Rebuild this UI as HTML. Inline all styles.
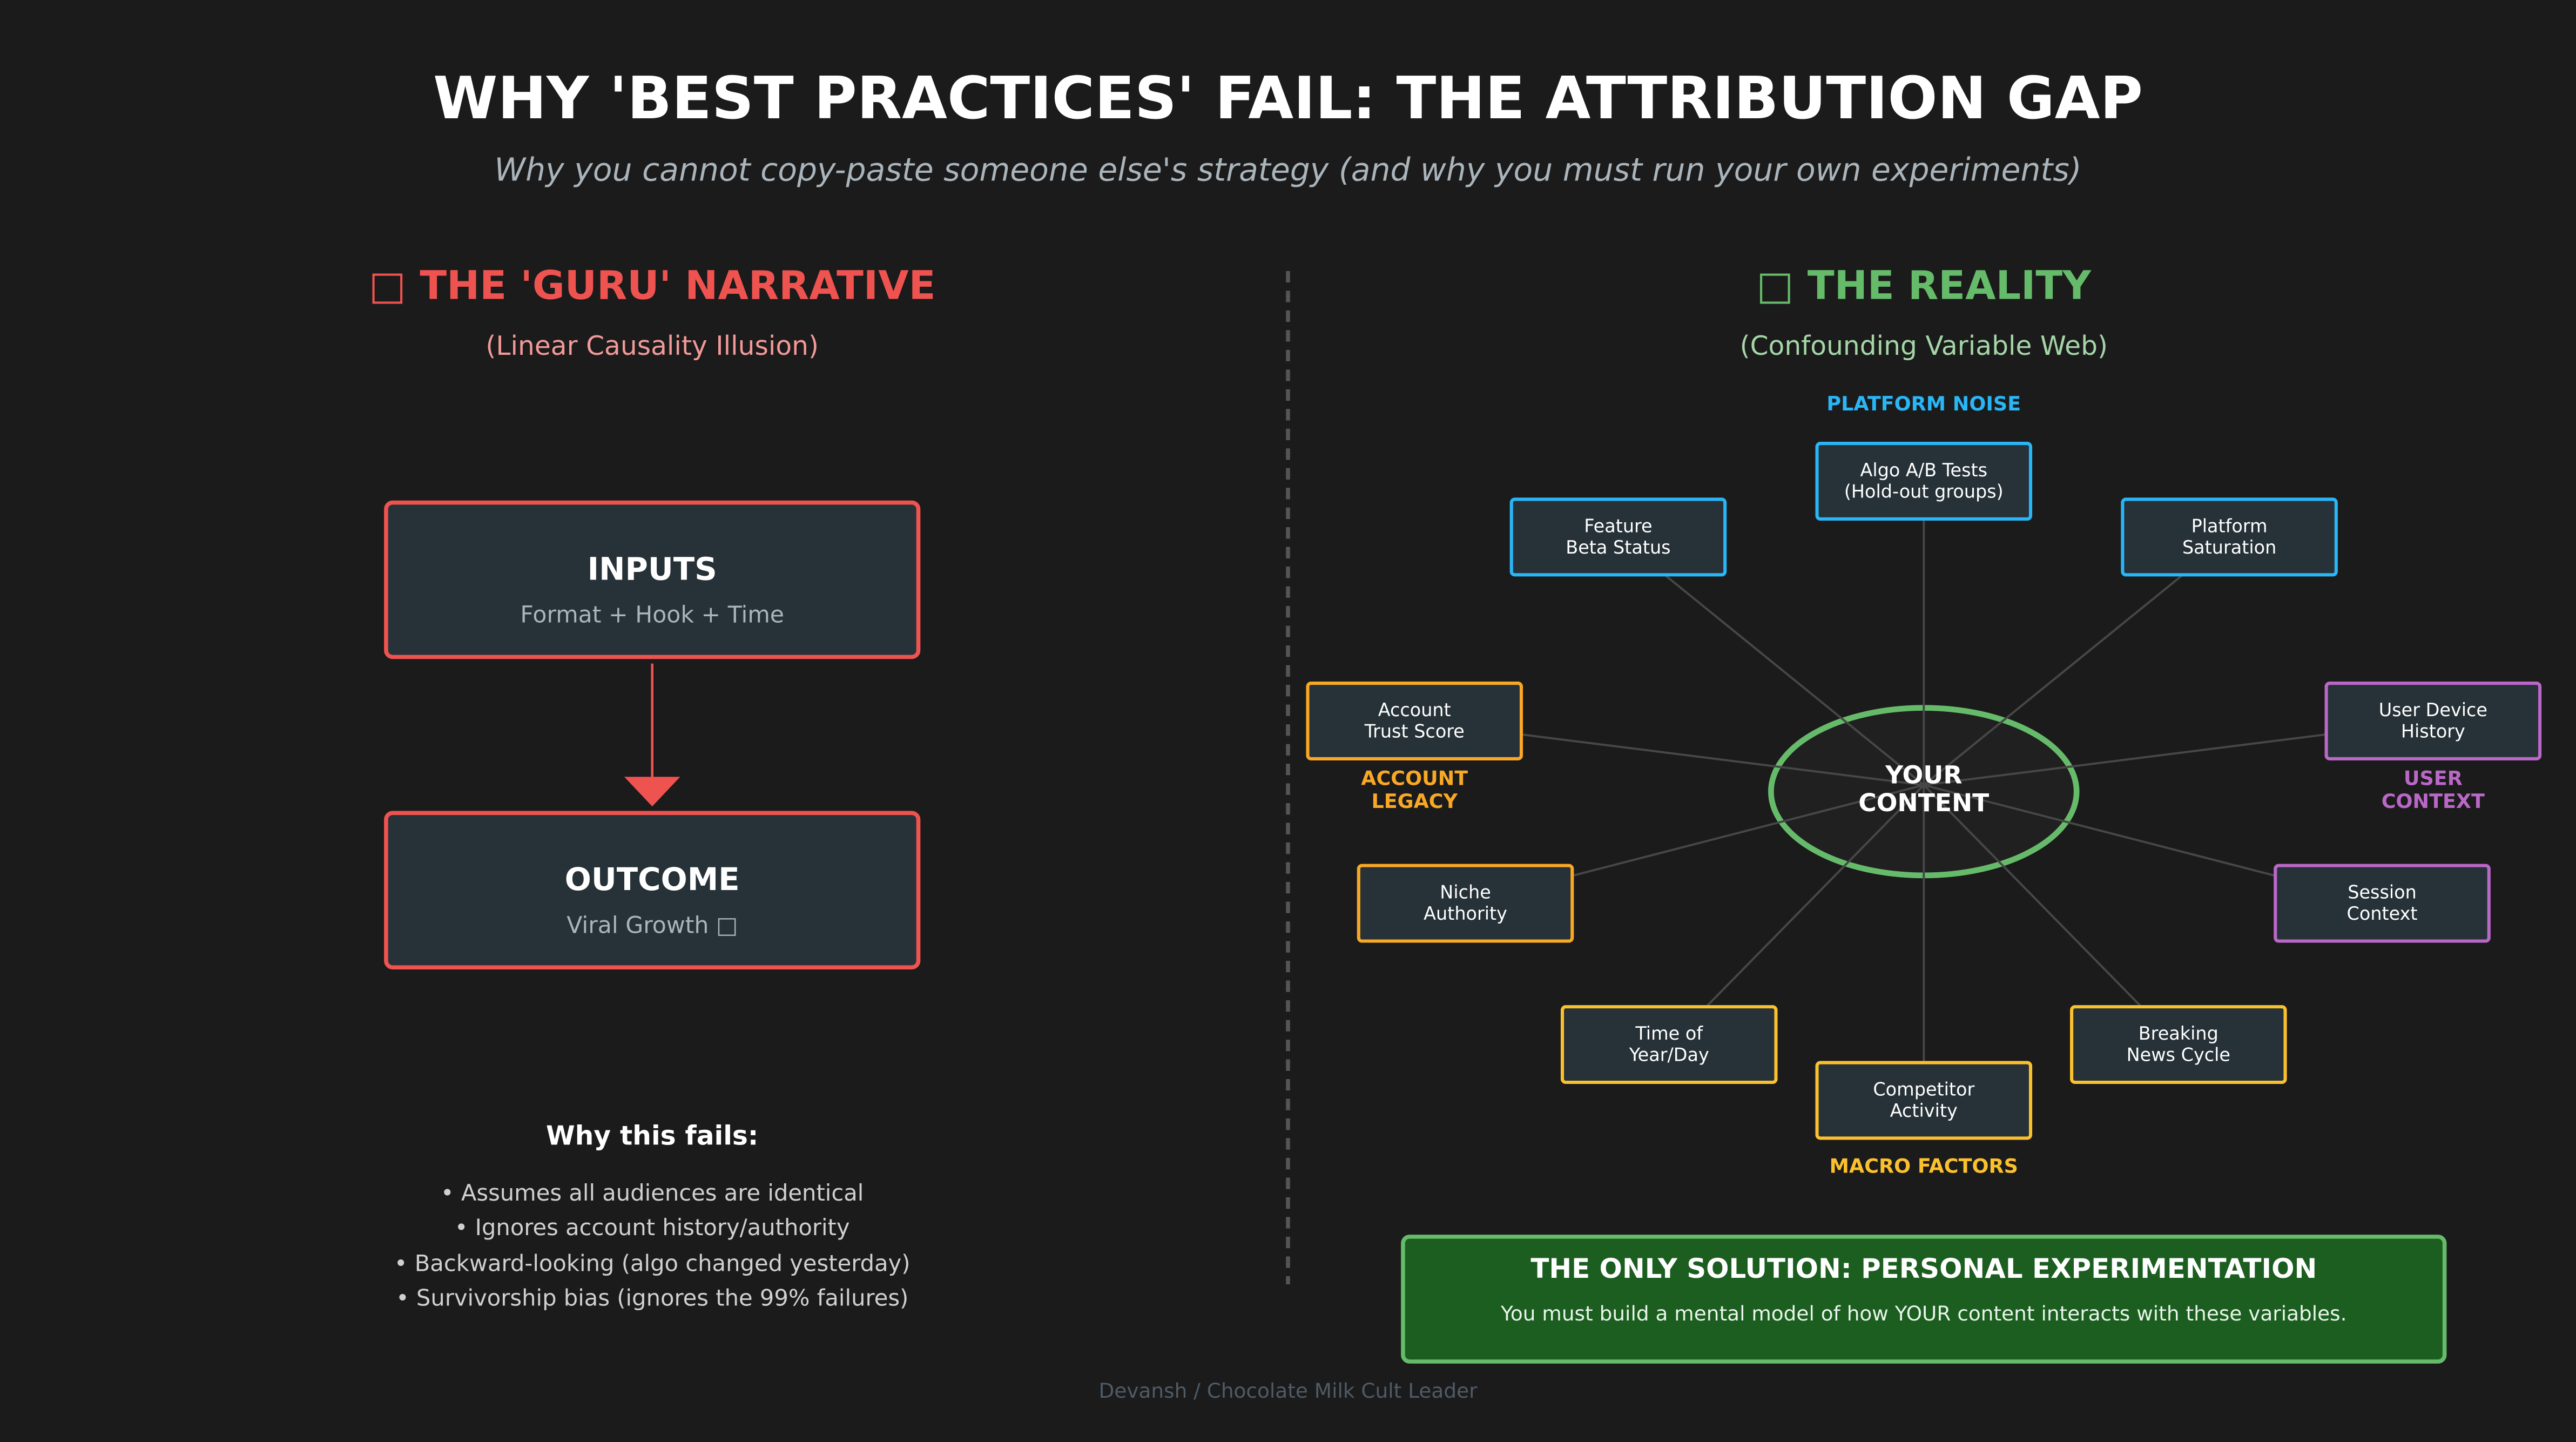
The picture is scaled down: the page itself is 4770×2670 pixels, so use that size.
<!DOCTYPE html>
<html><head><meta charset="utf-8">
<style>
html,body{margin:0;padding:0;background:#1b1b1b;}
svg{display:block;width:4770px;height:2670px;}
text{font-family:"DejaVu Sans","Liberation Sans",sans-serif;}
</style></head>
<body>
<svg viewBox="0 0 1568 878" xmlns="http://www.w3.org/2000/svg" preserveAspectRatio="none">
<rect width="1568" height="878" fill="#1b1b1b"/>
<text x="784" y="72" text-anchor="middle" font-size="35.6" font-weight="bold" fill="#ffffff">WHY 'BEST PRACTICES' FAIL: THE ATTRIBUTION GAP</text>
<text x="784" y="110" text-anchor="middle" font-size="19.2" font-style="italic" fill="#aab4bb">Why you cannot copy-paste someone else's strategy (and why you must run your own experiments)</text>

<line x1="784" y1="165" x2="784" y2="782" stroke="#555" stroke-width="2.5" stroke-dasharray="7,5"/>

<!-- Left -->
<text x="397" y="182" text-anchor="middle" font-size="24" font-weight="bold" fill="#ef5350">□ THE 'GURU' NARRATIVE</text>
<text x="397" y="216" text-anchor="middle" font-size="16" fill="#f19a98">(Linear Causality Illusion)</text>

<rect x="235" y="306" width="324" height="94" rx="4" fill="#263238" stroke="#ef5350" stroke-width="2.5"/>
<text x="397" y="353" text-anchor="middle" font-size="19" font-weight="bold" fill="#fff">INPUTS</text>
<text x="397" y="379" text-anchor="middle" font-size="14" fill="#aab4bb">Format + Hook + Time</text>
<line x1="397" y1="404" x2="397" y2="474" stroke="#ef5350" stroke-width="1.5"/>
<polygon points="380,473 414,473 397,491" fill="#ef5350"/>
<rect x="235" y="495" width="324" height="94" rx="4" fill="#263238" stroke="#ef5350" stroke-width="2.5"/>
<text x="397" y="542" text-anchor="middle" font-size="19" font-weight="bold" fill="#fff">OUTCOME</text>
<text x="397" y="568" text-anchor="middle" font-size="14" fill="#aab4bb">Viral Growth □</text>

<text x="397" y="697" text-anchor="middle" font-size="16" font-weight="bold" fill="#fff">Why this fails:</text>
<g font-size="13.7" fill="#d0d0d0" text-anchor="middle">
<text x="397" y="731">• Assumes all audiences are identical</text>
<text x="397" y="752">• Ignores account history/authority</text>
<text x="397" y="774">• Backward-looking (algo changed yesterday)</text>
<text x="397" y="795">• Survivorship bias (ignores the 99% failures)</text>
</g>

<!-- Right -->
<text x="1171" y="182" text-anchor="middle" font-size="24" font-weight="bold" fill="#66bb6a">□ THE REALITY</text>
<text x="1171" y="216" text-anchor="middle" font-size="16" fill="#a5d6a7">(Confounding Variable Web)</text>
<text x="1171" y="250" text-anchor="middle" font-size="12" font-weight="bold" fill="#29b6f6">PLATFORM NOISE</text>

<ellipse cx="1171" cy="482" rx="93" ry="51" fill="#202020" stroke="#66bb6a" stroke-width="3.5"/>
<g stroke="#474747" stroke-width="1.3">
<line x1="1171" y1="478" x2="985" y2="327"/>
<line x1="1171" y1="478" x2="1171" y2="293"/>
<line x1="1171" y1="478" x2="1357" y2="327"/>
<line x1="1171" y1="478" x2="861" y2="439"/>
<line x1="1171" y1="478" x2="1481" y2="439"/>
<line x1="1171" y1="478" x2="892" y2="550"/>
<line x1="1171" y1="478" x2="1450" y2="550"/>
<line x1="1171" y1="478" x2="1016" y2="636"/>
<line x1="1171" y1="478" x2="1326" y2="636"/>
<line x1="1171" y1="478" x2="1171" y2="670"/>
</g>
<text x="1171" y="477" text-anchor="middle" font-size="15" font-weight="bold" fill="#fff">YOUR</text>
<text x="1171" y="494" text-anchor="middle" font-size="15" font-weight="bold" fill="#fff">CONTENT</text>

<g font-size="11" fill="#fff" text-anchor="middle">
<rect x="1106" y="270" width="130" height="46" rx="2" fill="#263238" stroke="#29b6f6" stroke-width="2"/>
<text x="1171" y="290">Algo A/B Tests</text><text x="1171" y="303">(Hold-out groups)</text>
<rect x="920" y="304" width="130" height="46" rx="2" fill="#263238" stroke="#29b6f6" stroke-width="2"/>
<text x="985" y="324">Feature</text><text x="985" y="337">Beta Status</text>
<rect x="1292" y="304" width="130" height="46" rx="2" fill="#263238" stroke="#29b6f6" stroke-width="2"/>
<text x="1357" y="324">Platform</text><text x="1357" y="337">Saturation</text>
<rect x="796" y="416" width="130" height="46" rx="2" fill="#263238" stroke="#f9a825" stroke-width="2"/>
<text x="861" y="436">Account</text><text x="861" y="449">Trust Score</text>
<rect x="827" y="527" width="130" height="46" rx="2" fill="#263238" stroke="#f9a825" stroke-width="2"/>
<text x="892" y="547">Niche</text><text x="892" y="560">Authority</text>
<rect x="1416" y="416" width="130" height="46" rx="2" fill="#263238" stroke="#ba68c8" stroke-width="2"/>
<text x="1481" y="436">User Device</text><text x="1481" y="449">History</text>
<rect x="1385" y="527" width="130" height="46" rx="2" fill="#263238" stroke="#ba68c8" stroke-width="2"/>
<text x="1450" y="547">Session</text><text x="1450" y="560">Context</text>
<rect x="951" y="613" width="130" height="46" rx="2" fill="#263238" stroke="#fbc02d" stroke-width="2"/>
<text x="1016" y="633">Time of</text><text x="1016" y="646">Year/Day</text>
<rect x="1261" y="613" width="130" height="46" rx="2" fill="#263238" stroke="#fbc02d" stroke-width="2"/>
<text x="1326" y="633">Breaking</text><text x="1326" y="646">News Cycle</text>
<rect x="1106" y="647" width="130" height="46" rx="2" fill="#263238" stroke="#fbc02d" stroke-width="2"/>
<text x="1171" y="667">Competitor</text><text x="1171" y="680">Activity</text>
</g>
<g font-size="12" font-weight="bold" text-anchor="middle">
<text x="861" y="478" fill="#f9a825">ACCOUNT</text><text x="861" y="492" fill="#f9a825">LEGACY</text>
<text x="1481" y="478" fill="#ba68c8">USER</text><text x="1481" y="492" fill="#ba68c8">CONTEXT</text>
<text x="1171" y="714" fill="#fbc02d">MACRO FACTORS</text>
</g>

<rect x="854" y="753" width="634" height="76" rx="4" fill="#1b5e20" stroke="#66bb6a" stroke-width="2.5"/>
<text x="1171" y="778" text-anchor="middle" font-size="16.4" font-weight="bold" fill="#fff">THE ONLY SOLUTION: PERSONAL EXPERIMENTATION</text>
<text x="1171" y="804" text-anchor="middle" font-size="12.3" fill="#e8f5e9">You must build a mental model of how YOUR content interacts with these variables.</text>

<text x="784" y="851" text-anchor="middle" font-size="12.3" fill="#4f5b66">Devansh / Chocolate Milk Cult Leader</text>
</svg>
</body></html>
